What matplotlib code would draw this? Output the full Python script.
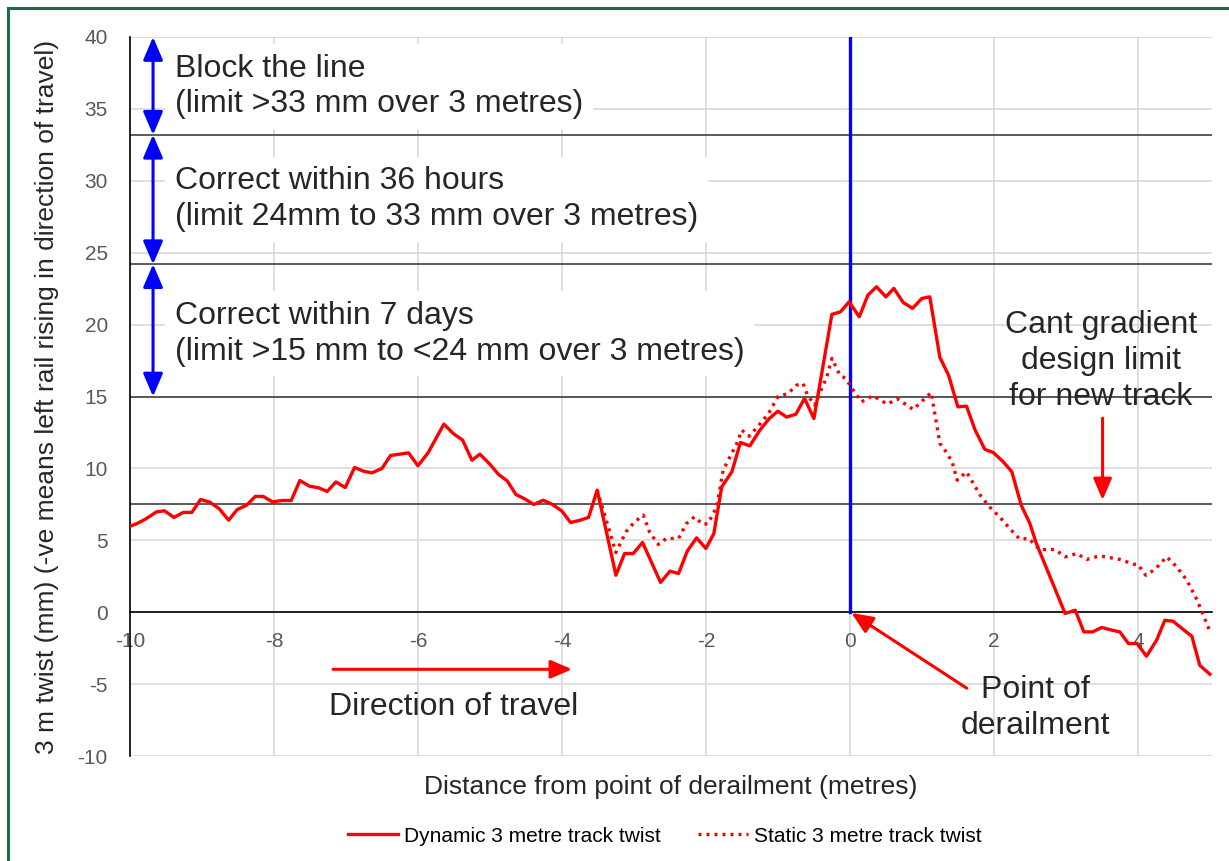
import matplotlib
matplotlib.use("Agg")
import matplotlib.pyplot as plt
from matplotlib import font_manager
from matplotlib.lines import Line2D

plt.rcParams["font.family"] = ["Liberation Sans", "DejaVu Sans"]
plt.rcParams["axes.unicode_minus"] = False

# dynamic 3 m twist
dyn_x = [-10.00, -9.90, -9.78, -9.63, -9.52, -9.39, -9.26, -9.14, -9.02, -8.89,
         -8.76, -8.63, -8.51, -8.38, -8.26, -8.15, -8.02, -7.89, -7.76, -7.64,
         -7.51, -7.38, -7.26, -7.14, -7.01, -6.88, -6.76, -6.64, -6.50, -6.38,
         -6.13, -6.00, -5.86, -5.64, -5.51, -5.38, -5.25, -5.14, -5.01, -4.88,
         -4.76, -4.64, -4.51, -4.39, -4.26, -4.13, -4.00, -3.88, -3.76, -3.63,
         -3.51, -3.25, -3.13, -3.01, -2.88, -2.63, -2.50, -2.38, -2.26, -2.13,
         -2.00, -1.89, -1.78, -1.64, -1.52, -1.39, -1.25, -1.12, -1.00, -0.88,
         -0.75, -0.63, -0.50, -0.25, -0.13, -0.01, 0.13, 0.25, 0.37, 0.50,
         0.61, 0.74, 0.87, 1.00, 1.11, 1.25, 1.37, 1.50, 1.62, 1.74,
         1.875, 1.99, 2.13, 2.25, 2.38, 2.50, 2.59, 2.99, 3.13, 3.25,
         3.37, 3.50, 3.64, 3.75, 3.87, 3.99, 4.12, 4.26, 4.375, 4.49,
         4.63, 4.75, 4.86, 5.00]
dyn_y = [5.98, 6.17, 6.49, 6.98, 7.05, 6.59, 6.94, 6.94, 7.84, 7.65,
         7.19, 6.40, 7.14, 7.44, 8.05, 8.05, 7.67, 7.77, 7.77, 9.16,
         8.77, 8.65, 8.40, 9.06, 8.67, 10.07, 9.81, 9.69, 10.00, 10.90,
         11.08, 10.18, 11.08, 13.08, 12.43, 11.97, 10.57, 10.99, 10.34, 9.58,
         9.13, 8.19, 7.86, 7.49, 7.79, 7.49, 7.03, 6.24, 6.38, 6.59,
         8.49, 2.57, 4.08, 4.08, 4.85, 2.07, 2.85, 2.69, 4.24, 5.17,
         4.43, 5.47, 8.72, 9.76, 11.80, 11.57, 12.66, 13.47, 13.98, 13.57,
         13.77, 14.87, 13.47, 20.71, 20.89, 21.59, 20.54, 22.05, 22.63, 21.93,
         22.52, 21.54, 21.13, 21.82, 21.93, 17.72, 16.49, 14.28, 14.33, 12.66,
         11.32, 11.11, 10.46, 9.76, 7.44, 6.17, 4.78, -0.09, 0.14, -1.37,
         -1.37, -1.06, -1.25, -1.37, -2.18, -2.18, -3.06, -1.95, -0.56, -0.63,
         -1.20, -1.67, -3.69, -4.31]

# static 3 m twist
sta_x = [-3.51, -3.25, -3.11, -2.99, -2.87, -2.78, -2.66, -2.55, -2.38, -2.27,
         -2.16, -2.04, -1.97, -1.85, -1.76, -1.57, -1.50, -1.40, -1.25, -1.13,
         -1.00, -0.86, -0.74, -0.65, -0.59, -0.49, -0.32, -0.25, -0.14, -0.06,
         0.03, 0.16, 0.32, 0.52, 0.66, 0.88, 1.13, 1.25, 1.32, 1.42,
         1.49, 1.62, 1.81, 1.94, 2.08, 2.22, 2.36, 2.48, 2.64, 2.85,
         2.99, 3.15, 3.29, 3.47, 3.75, 3.94, 4.00, 4.11, 4.24, 4.40,
         4.54, 4.68, 4.82, 5.00]
sta_y = [8.49, 4.15, 5.59, 6.28, 6.75, 5.54, 4.71, 5.13, 5.13, 6.17,
         6.63, 6.10, 6.17, 7.33, 9.88, 11.74, 12.66, 12.24, 13.08, 13.82,
         14.98, 15.21, 15.79, 15.91, 15.10, 14.40, 16.37, 17.65, 16.49, 16.26,
         15.56, 14.63, 15.05, 14.47, 14.84, 14.10, 15.28, 11.74, 11.27, 10.46,
         9.18, 9.76, 8.14, 7.33, 6.63, 5.82, 5.08, 5.13, 4.36, 4.36,
         3.85, 4.08, 3.67, 3.92, 3.67, 3.34, 3.32, 2.57, 2.99, 3.85,
         3.15, 2.23, 0.88, -1.32]

limit_levels = [33.2, 24.2, 15.0, 7.5]
band_edges = [40.0, 33.2, 24.2, 15.0]
band_texts = ["Block the line\n(limit >33 mm over 3 metres)",
              "Correct within 36 hours\n(limit 24mm to 33 mm over 3 metres)",
              "Correct within 7 days\n(limit >15 mm to <24 mm over 3 metres)"]
band_text_y = [36.56, 28.73, 19.37]

narrow = "Liberation Sans Narrow"
names = {f.name for f in font_manager.fontManager.ttflist}
legend_family = narrow if narrow in names else "Liberation Sans"

fig = plt.figure(figsize=(12.29, 8.61), dpi=100)
ax = fig.add_axes([130 / 1229, 105 / 861, (1212 - 130) / 1229, (756 - 37) / 861])

ax.set_xlim(-10, 5.03)
ax.set_ylim(-10, 40)
ax.set_xticks([-10, -8, -6, -4, -2, 0, 2, 4])
ax.set_yticks(range(-10, 41, 5))
ax.grid(True, color="#d9d9d9", lw=1.2, zorder=0)
ax.set_axisbelow(True)
for s in ["top", "right"]:
    ax.spines[s].set_visible(False)
ax.spines["left"].set_color("black")
ax.spines["left"].set_linewidth(1.2)
ax.spines["bottom"].set_position(("data", 0))
ax.spines["bottom"].set_color("black")
ax.spines["bottom"].set_linewidth(1.2)
ax.tick_params(axis="y", length=0, pad=16, labelsize=15, labelcolor="#595959")
ax.tick_params(axis="x", length=0, pad=14, labelsize=15, labelcolor="#595959")

for lv in limit_levels:
    ax.axhline(lv, color="#404040", lw=1.2, zorder=1)

ax.set_ylabel("3 m twist (mm) (-ve means left rail rising in direction of travel)",
              fontsize=19, color="#262626")
ax.set_xlabel("Distance from point of derailment (metres)", fontsize=19, color="#262626")
ax.xaxis.set_label_coords(0.5, -0.026)
ax.yaxis.set_label_coords(-0.066, 0.5)

# limit bands with text
for i, txt in enumerate(band_texts):
    ax.text(-9.375, band_text_y[i], txt, fontsize=23, color="#262626", va="center", ha="left",
            linespacing=1.25, zorder=2,
            bbox=dict(boxstyle="square,pad=0.3", fc="white", ec="none"))
    ax.annotate("", xy=(-9.68, band_edges[i + 1]), xytext=(-9.68, band_edges[i]),
                arrowprops=dict(arrowstyle="<|-|>,head_length=0.7,head_width=0.3",
                                color="#0000ff", lw=2.2, mutation_scale=20,
                                shrinkA=0, shrinkB=0), zorder=3)

ax.plot([0, 0], [0, 40], color="#0000ff", lw=2.4, zorder=4)

ax.plot(dyn_x, dyn_y, color="#ff0000", lw=2.4, zorder=5, label="Dynamic 3 metre track twist")
ax.plot(sta_x, sta_y, color="#ff0000", lw=2.4, ls=(0, (0.9, 1.5)), zorder=5,
        label="Static 3 metre track twist")

red_arrow = dict(arrowstyle="-|>,head_length=0.65,head_width=0.28", color="#ff0000",
                 lw=2.2, mutation_scale=20, shrinkA=0, shrinkB=0)
ax.annotate("", xy=(-3.86, -3.97), xytext=(-7.18, -3.97), arrowprops=red_arrow)
ax.text(-5.51, -6.6, "Direction of travel", fontsize=23, color="#262626", ha="center", va="center")

ax.annotate("", xy=(0.02, -0.05), xytext=(1.625, -5.29), arrowprops=red_arrow, zorder=6)
ax.text(2.58, -6.68, "Point of\nderailment", fontsize=23, color="#262626",
        ha="center", va="center", linespacing=1.25)

ax.text(3.49, 17.46, "Cant gradient\ndesign limit\nfor new track", fontsize=23, color="#262626",
        ha="center", va="center", linespacing=1.25)
ax.annotate("", xy=(3.51, 7.8), xytext=(3.51, 13.5), arrowprops=red_arrow)

fig.legend(loc="center", bbox_to_anchor=(0.541, 0.029), ncol=2, frameon=False,
           prop={"family": legend_family, "size": 15}, handlelength=2.4,
           handletextpad=0.3, columnspacing=1.8)

# green frame
fig.add_artist(Line2D([8 / 1229, 8 / 1229], [0, 1 - 8 / 861], color="#1a6e46", lw=2.2))
fig.add_artist(Line2D([8 / 1229, 1], [1 - 8 / 861, 1 - 8 / 861], color="#1a6e46", lw=2.2))

fig.savefig("out.png", dpi=100)
